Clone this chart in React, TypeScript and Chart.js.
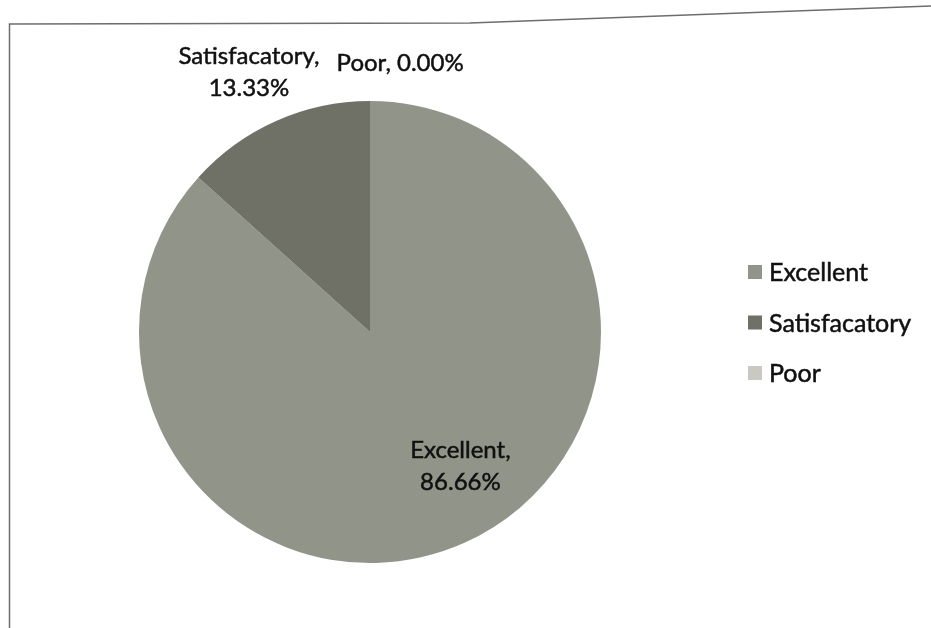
import React, { useEffect, useRef } from "react";
import { Chart, registerables } from "chart.js";

Chart.register(...registerables);

// ---- data ----
const categories = ["Excellent", "Satisfacatory", "Poor"];
const percentValues = [86.66, 13.33, 0.0];
const valueLabels = ["86.66%", "13.33%", "0.00%"];
const sliceColors = ["#919489", "#6f7167", "#c9c9c2"];

// ---- label layout (style only) ----
const labelAngleOffsetDeg = [-10, -1, 6.4];
const labelRadiusFactor = [0.7, 1.24, 1.17];
const labelTwoLines = [true, true, false];

const W = 931;
const H = 628;
const FONT = "Lato, 'Open Sans', sans-serif";

const framePlugin = {
  id: "frame",
  beforeDraw(chart: any) {
    const ctx = chart.ctx;
    ctx.save();
    ctx.fillStyle = "#ffffff";
    ctx.fillRect(0, 0, chart.width, chart.height);
    ctx.strokeStyle = "#6d6d6d";
    ctx.lineWidth = 1.5;
    ctx.beginPath();
    ctx.moveTo(9.5, chart.height);
    ctx.lineTo(9.5, 24);
    ctx.lineTo(470, 23);
    ctx.lineTo(chart.width, 6);
    ctx.stroke();
    ctx.restore();
  },
};

function boldText(ctx: any, s: string, x: number, y: number) {
  ctx.fillText(s, x, y);
  ctx.strokeText(s, x, y);
}

const sliceLabelPlugin = {
  id: "sliceLabels",
  afterDatasetsDraw(chart: any) {
    const ctx = chart.ctx;
    const meta = chart.getDatasetMeta(0);
    ctx.save();
    ctx.font = `24px ${FONT}`;
    ctx.fillStyle = "#111111";
    ctx.strokeStyle = "#111111";
    ctx.lineWidth = 0.5;
    ctx.textAlign = "center";
    ctx.textBaseline = "middle";
    meta.data.forEach((arc: any, i: number) => {
      const p = arc.getProps(["x", "y", "startAngle", "endAngle", "outerRadius"], true);
      const mid = (p.startAngle + p.endAngle) / 2 + (labelAngleOffsetDeg[i] * Math.PI) / 180;
      const r = p.outerRadius * labelRadiusFactor[i];
      const cx = p.x + Math.cos(mid) * r;
      const cy = p.y + Math.sin(mid) * r;
      const name = chart.data.labels[i] + ",";
      const val = valueLabels[i];
      if (labelTwoLines[i]) {
        boldText(ctx, name, cx, cy - 16);
        boldText(ctx, val, cx, cy + 16);
      } else {
        boldText(ctx, name + " " + val, cx, cy);
      }
    });
    ctx.restore();
  },
};

const legendPlugin = {
  id: "customLegend",
  afterDraw(chart: any) {
    const ctx = chart.ctx;
    const colors = chart.data.datasets[0].backgroundColor;
    ctx.save();
    ctx.font = `25px ${FONT}`;
    ctx.textBaseline = "middle";
    ctx.textAlign = "left";
    ctx.lineWidth = 0.5;
    chart.data.labels.forEach((lab: string, i: number) => {
      const rowY = 272 + i * 50.5;
      ctx.fillStyle = colors[i];
      ctx.fillRect(748, rowY - 7, 14, 14);
      ctx.fillStyle = "#111111";
      ctx.strokeStyle = "#111111";
      boldText(ctx, lab, 769, rowY + 1);
    });
    ctx.restore();
  },
};

export default function App() {
  const ref = useRef<HTMLCanvasElement | null>(null);
  useEffect(() => {
    if (!ref.current) return;
    const chart = new Chart(ref.current, {
      type: "pie",
      data: {
        labels: categories,
        datasets: [
          {
            data: percentValues,
            backgroundColor: sliceColors,
            borderWidth: 0,
          },
        ],
      },
      options: {
        responsive: false,
        animation: false,
        layout: { padding: { left: 139, right: 330, top: 99, bottom: 63 } },
        plugins: {
          legend: { display: false },
          tooltip: { enabled: false },
        },
      },
      plugins: [framePlugin, sliceLabelPlugin, legendPlugin],
    });
    return () => chart.destroy();
  }, []);
  return (
    <div style={{ position: "absolute", left: 0, top: 0, width: W, height: H, background: "#fff" }}>
      <canvas ref={ref} width={W} height={H} style={{ width: W, height: H, display: "block" }} />
    </div>
  );
}
